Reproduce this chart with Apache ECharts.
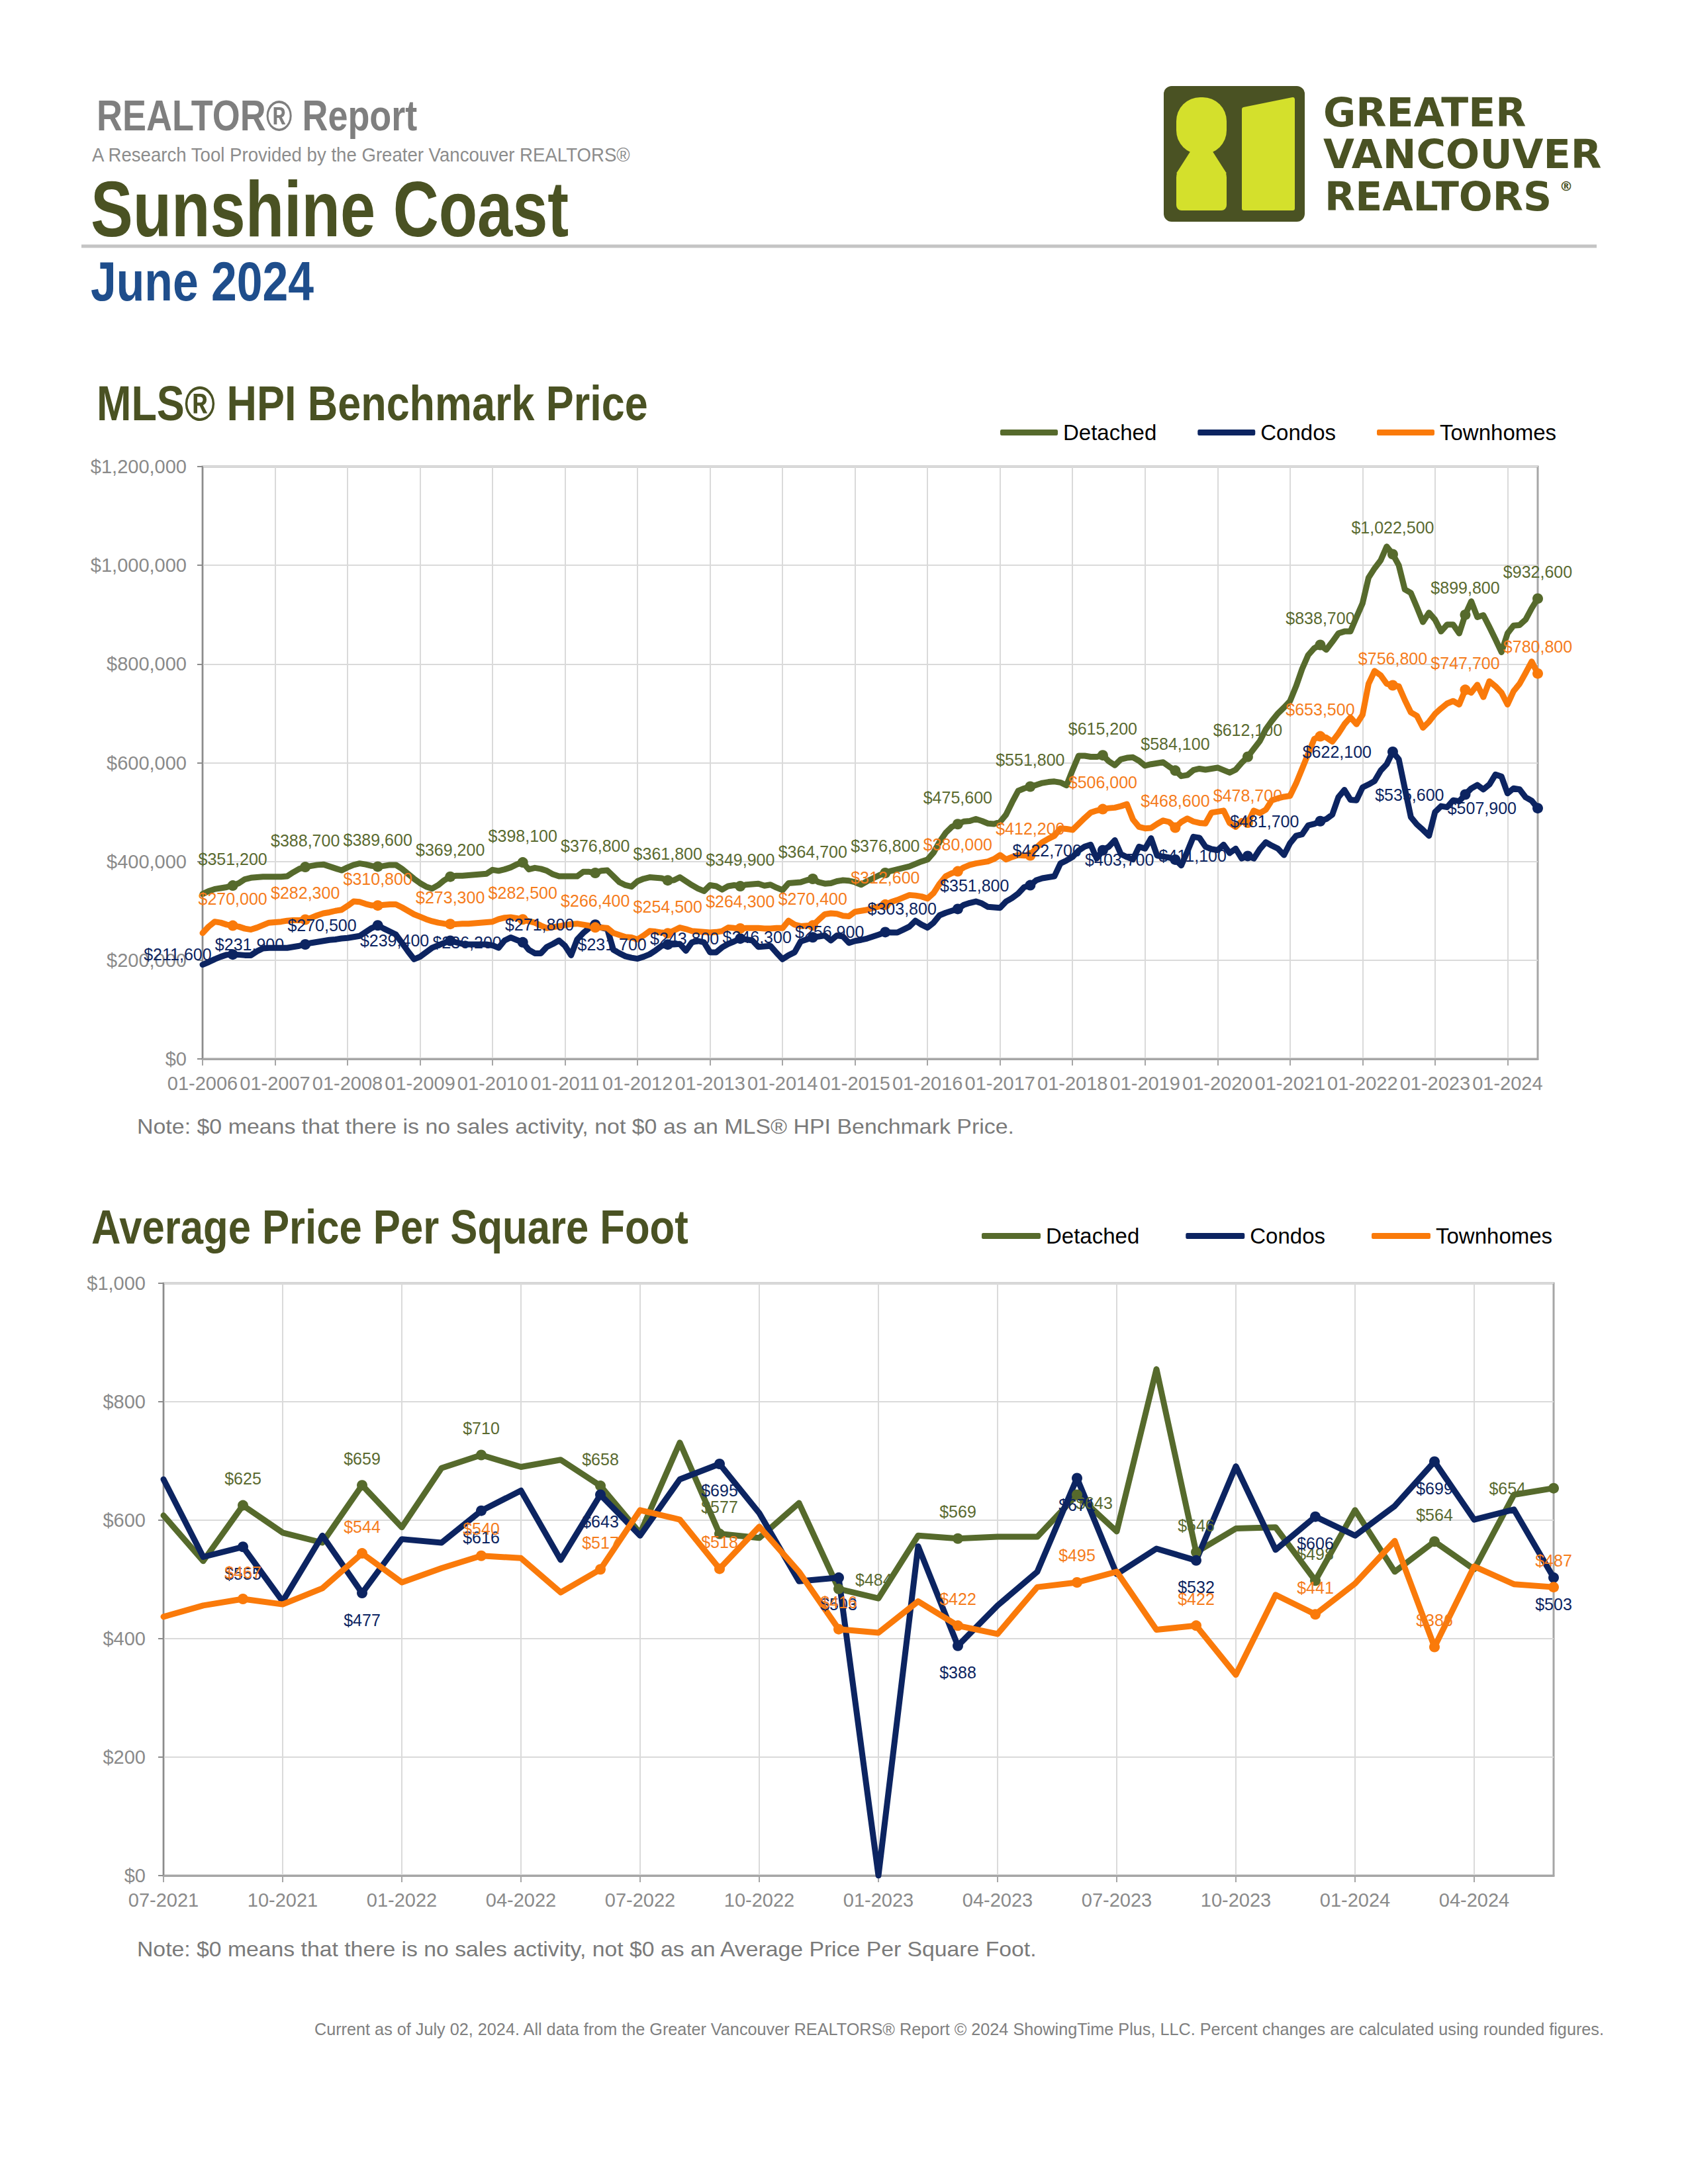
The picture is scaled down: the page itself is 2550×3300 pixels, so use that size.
<!DOCTYPE html>
<html>
<head>
<meta charset="utf-8">
<script src="https://cdn.jsdelivr.net/npm/echarts@6/dist/echarts.min.js"></script>
<style>
html,body{margin:0;padding:0;background:#ffffff;}
#page{width:2550px;height:3300px;}
</style>
</head>
<body>
<div id="page"></div>
<script>
// ---------------- DATA ----------------
const seriesNames = ['Detached', 'Condos', 'Townhomes'];

// MLS HPI Benchmark Price, monthly 01-2006 .. 06-2024
const hpiFirstYear = 2006;
const hpiMonthCount = 222;
const hpiYTicks = [0, 200000, 400000, 600000, 800000, 1000000, 1200000];

const hpiDetached = [
 334000,340000,344000,346000,348000,351200,356000,364000,367000,368000,369000,369000,
 369000,369000,370000,378000,385000,388700,391000,393000,394000,390000,386000,382000,
 388000,393000,396000,394000,391000,389600,391000,393000,393000,385000,375000,365000,
 356000,349000,345000,352000,362000,369200,371000,371000,372000,373000,374000,375000,
 383000,381000,384000,388000,394000,398100,384000,387000,385000,381000,374000,370000,
 370000,370000,370000,379000,379000,376800,381000,382000,370000,358000,352000,349000,
 360000,365000,368000,367000,366000,361800,362000,368000,360000,352000,345000,340000,
 352000,350000,343000,350000,352000,349900,353000,354000,355000,351000,353000,347000,
 342000,356000,357000,358000,362000,364700,358000,355000,356000,360000,362000,361000,
 358000,353000,360000,366000,372000,376800,381000,384000,387000,390000,395000,400000,
 404000,418000,440000,458000,470000,475600,481000,482000,486000,482000,477000,476000,
 480000,495000,520000,543000,548000,551800,555000,559000,561000,562000,560000,554000,
 585000,614000,614000,612000,612000,615200,603000,595000,607000,610000,611000,604000,
 594000,597000,599000,601000,592000,584100,573000,575000,585000,588000,586000,588000,
 590000,585000,580000,586000,600000,612100,628000,644000,668000,685000,700000,712000,
 725000,755000,790000,818000,832000,838700,829000,845000,862000,866000,866000,895000,
 923000,975000,994000,1010000,1038000,1022500,1000000,951000,944000,915000,885000,904000,
 890000,866000,880000,880000,862000,899800,927000,895000,899000,875000,850000,824000,
 862000,878000,879000,890000,913000,932600
];

const hpiCondos = [
 191000,196000,202000,207000,211000,211600,211000,210000,210000,218000,224000,225000,
 225000,225000,225000,227000,229000,231900,235000,237000,239000,241000,242000,244000,
 245000,247000,249000,257000,265000,270500,264000,258000,252000,235000,218000,202000,
 207000,216000,225000,230000,235000,239400,236000,233000,232000,232000,232000,232000,
 230000,225000,240000,246000,241000,236200,221000,214000,214000,227000,233000,240000,
 229000,210000,242000,255000,265000,271800,266000,263000,221000,214000,208000,205000,
 203000,207000,212000,220000,229000,231700,232000,233000,219000,236000,239000,236000,
 216000,216000,226000,233000,238000,243800,242000,240000,227000,228000,229000,215000,
 202000,210000,216000,238000,242000,246300,248000,250000,240000,250000,248000,235000,
 239000,241000,244000,248000,252000,256900,256000,256000,262000,268000,280000,272000,
 266000,276000,291000,296000,300000,303800,312000,316000,319000,315000,308000,307000,
 306000,319000,326000,335000,348000,351800,362000,366000,368000,370000,396000,402000,
 409000,422000,430000,434000,406000,422700,430000,443000,415000,409000,404000,430000,
 426000,447000,412000,410000,408000,403700,392000,420000,450000,448000,430000,425000,
 423000,434000,417000,426000,406000,411100,406000,425000,439000,432000,426000,413000,
 437000,452000,455000,473000,476000,481700,486000,495000,530000,545000,525000,524000,
 550000,556000,563000,584000,597000,622100,607000,548000,490000,475000,464000,452000,
 500000,512000,510000,524000,522000,535600,548000,555000,546000,556000,576000,572000,
 538000,548000,546000,530000,523000,507900
];

const hpiTownhomes = [
 255000,268000,278000,276000,272000,270000,268000,264000,262000,266000,271000,276000,
 277000,278000,280000,281000,281000,282300,286000,291000,295000,297000,300000,302000,
 310000,319000,318000,314000,311000,310800,312000,313000,313000,307000,300000,293000,
 288000,283000,279000,276000,274000,273300,273000,274000,274000,275000,276000,277000,
 278000,283000,286000,287000,285000,282500,279000,276000,270000,265000,267000,269000,
 271000,273000,274000,272000,270000,266400,266000,265000,255000,251000,247000,246000,
 242000,250000,259000,258000,256000,254500,260000,266000,263000,259000,258000,257000,
 256000,257000,259000,266000,265000,264300,265000,265000,265000,264000,264000,265000,
 265000,280000,272000,269000,270000,270400,282000,293000,295000,294000,290000,289000,
 298000,300000,302000,306000,309000,312600,318000,322000,327000,332000,331000,329000,
 325000,336000,355000,370000,376000,380000,388000,393000,396000,398000,400000,405000,
 413000,404000,409000,413000,412000,412200,428000,439000,446000,452000,467000,466000,
 464000,476000,488000,499000,503000,506000,508000,509000,512000,516000,485000,470000,
 467000,468000,476000,483000,480000,468600,480000,487000,481000,478000,477000,499000,
 501000,503000,478000,470000,482000,478700,503000,498000,505000,524000,528000,531000,
 533000,558000,588000,618000,648000,653500,651000,643000,659000,678000,692000,678000,
 697000,760000,786000,777000,760000,756800,755000,727000,702000,695000,671000,683000,
 699000,710000,720000,725000,718000,747700,742000,758000,733000,765000,755000,742000,
 718000,745000,760000,782000,805000,780800
];

// Average Price Per Square Foot, monthly 07-2021 .. 06-2024
const ppsfFirstYear = 2021;
const ppsfFirstMonth = 7;
const ppsfMonthCount = 36;
const ppsfYTicks = [0, 200, 400, 600, 800, 1000];

const ppsfDetached = [608,531,625,579,562,659,588,688,710,690,702,658,
                      578,731,577,570,629,484,468,574,569,572,572,643,
                      581,855,546,586,588,498,617,513,564,517,643,654];
const ppsfCondos   = [669,538,555,463,574,477,568,562,616,650,533,643,
                      574,669,695,612,497,503,0,556,388,456,513,671,
                      509,552,532,691,550,606,574,624,699,601,618,503];
const ppsfTownhomes= [437,456,467,458,485,544,495,519,540,536,478,517,
                      617,601,518,589,513,416,410,463,422,408,487,495,
                      513,415,422,339,474,441,493,565,386,522,492,487];

// category (tick) labels "MM-YYYY"
function monthLabels(y0, m0, n) {
  const out = [];
  for (let i = 0; i < n; i++) {
    const t = (m0 - 1) + i;
    const y = y0 + Math.floor(t / 12);
    const m = (t % 12) + 1;
    out.push(String(m).padStart(2, '0') + '-' + y);
  }
  return out;
}
const hpiCategories = monthLabels(hpiFirstYear, 1, hpiMonthCount);
const ppsfCategories = monthLabels(ppsfFirstYear, ppsfFirstMonth, ppsfMonthCount);

// ---------------- STYLE ----------------
const lineColors = { Detached: '#566a2c', Condos: '#0c2461', Townhomes: '#fa7a0a' };
const labelColors = { Detached: '#5a6a30', Condos: '#0c2461', Townhomes: '#f57c1c' };
const FONT = '"Liberation Sans", Arial, sans-serif';
const olive = '#4a5223';

function money(v) { return '$' + Number(v).toLocaleString('en-US'); }

// labelOverride: { index: {position, distance, offset} }
function makeSeries(name, values, idx, isLabeled, pos, dist, labelOverride) {
  return {
    name: name,
    type: 'line',
    xAxisIndex: idx,
    yAxisIndex: idx,
    z: 3,
    showSymbol: true,
    showAllSymbol: true,
    symbol: 'circle',
    symbolSize: 16,
    animation: false,
    silent: true,
    emphasis: { disabled: true },
    lineStyle: { width: 9, color: lineColors[name], cap: 'round', join: 'round' },
    itemStyle: { color: lineColors[name] },
    label: {
      show: false,
      formatter: function (p) { return money(p.value); },
      color: labelColors[name],
      fontSize: 25,
      fontFamily: FONT
    },
    data: values.map(function (v, i) {
      if (isLabeled(i)) {
        const lab = Object.assign({ show: true, position: pos, distance: dist },
                                  (labelOverride && labelOverride[i]) || {});
        return { value: v, symbol: 'circle', symbolSize: 16, label: lab };
      }
      return { value: v, symbol: 'none' };
    })
  };
}

const hpiLabeled = function (i) { return i % 12 === 5; };
const ppsfLabeled = function (i) { return i % 3 === 2; };

const axisGrey = '#a6a6a6';
const gridGrey = '#dadada';
const tickText = '#8a8a8a';

function xAxisDef(gridIndex, cats, interval) {
  return {
    type: 'category', gridIndex: gridIndex, data: cats, boundaryGap: false,
    axisLine: { show: true, lineStyle: { color: axisGrey, width: 3 } },
    axisTick: { show: true, interval: interval, length: 10, lineStyle: { color: axisGrey, width: 2 } },
    axisLabel: { interval: interval, margin: 22, color: tickText, fontSize: 29, fontFamily: FONT },
    splitLine: { show: true, interval: interval, lineStyle: { color: gridGrey, width: 2 } }
  };
}
function yAxisDef(gridIndex, ticks, margin) {
  return {
    type: 'value', gridIndex: gridIndex,
    min: ticks[0], max: ticks[ticks.length - 1], interval: ticks[1] - ticks[0],
    axisLine: { show: true, lineStyle: { color: '#8c8c8c', width: 2 } },
    axisTick: { show: true, length: 8, lineStyle: { color: '#8c8c8c', width: 2 } },
    axisLabel: { margin: margin, color: tickText, fontSize: 29, fontFamily: FONT, formatter: money },
    splitLine: { show: true, lineStyle: { color: gridGrey, width: 2 } }
  };
}

// text element; sx = horizontal squeeze/stretch to mimic the original typeface widths
function txt(text, x, y, font, fill, sx, align) {
  return {
    type: 'text', silent: true, x: x, y: y, scaleX: sx || 1, scaleY: 1,
    style: { text: text, x: 0, y: 0, font: font, fill: fill,
             textAlign: align || 'left', textVerticalAlign: 'middle' }
  };
}

const logoYellow = '#d4e02c';
const logoFont = 'bold 60px "DejaVu Sans", sans-serif';
const graphics = [
  txt('REALTOR® Report', 146, 175, 'bold 65px ' + FONT, '#7f7f7f', 0.83),
  txt('A Research Tool Provided by the Greater Vancouver REALTORS®', 139, 234, '30px ' + FONT, '#8c8c8c', 0.92),
  txt('Sunshine Coast', 137, 316, 'bold 118px ' + FONT, olive, 0.81),
  { type: 'line', silent: true, shape: { x1: 123, y1: 372, x2: 2412, y2: 372 }, style: { stroke: '#c4c4c4', lineWidth: 5 } },
  txt('June 2024', 137, 425, 'bold 83px ' + FONT, '#1f4e8c', 0.84),
  // logo
  { type: 'rect', silent: true, shape: { x: 1758, y: 130, width: 213, height: 205, r: 12 }, style: { fill: olive } },
  { type: 'rect', silent: true, shape: { x: 1777, y: 147, width: 76, height: 86, r: 36 }, style: { fill: logoYellow } },
  { type: 'polygon', silent: true, shape: { points: [[1800, 226], [1830, 226], [1853, 262], [1777, 262]] }, style: { fill: logoYellow } },
  { type: 'rect', silent: true, shape: { x: 1777, y: 250, width: 76, height: 68, r: [18, 18, 8, 8] }, style: { fill: logoYellow } },
  { type: 'polygon', silent: true, shape: { points: [[1879, 165], [1953, 150], [1953, 315], [1879, 315]] }, style: { fill: logoYellow, stroke: logoYellow, lineWidth: 6, lineJoin: 'round' } },
  txt('GREATER', 1999, 170, logoFont, olive, 1),
  txt('VANCOUVER', 1999, 233, logoFont, olive, 1.01),
  txt('REALTORS', 2001, 297, logoFont, olive, 1.0),
  txt('®', 2356, 281, 'bold 20px "DejaVu Sans", sans-serif', olive, 1),
  // section titles
  txt('MLS® HPI Benchmark Price', 146, 610, 'bold 74px ' + FONT, olive, 0.85),
  txt('Average Price Per Square Foot', 138, 1854, 'bold 72px ' + FONT, olive, 0.856),
  // notes
  txt('Note: $0 means that there is no sales activity, not $0 as an MLS® HPI Benchmark Price.', 207, 1702, '32px ' + FONT, '#7a7a7a', 1.06),
  txt('Note: $0 means that there is no sales activity, not $0 as an Average Price Per Square Foot.', 207, 2945, '32px ' + FONT, '#7a7a7a', 1.055),
  txt('Current as of July 02, 2024. All data from the Greater Vancouver REALTORS® Report © 2024 ShowingTime Plus, LLC. Percent changes are calculated using rounded figures.', 2423, 3066, '25px ' + FONT, '#808080', 1.01, 'right')
];

const legendBase = {
  icon: 'roundRect', itemHeight: 9, orient: 'horizontal', selectedMode: false,
  textStyle: { fontSize: 33, color: '#000000', fontFamily: FONT, padding: [0, 0, 0, 3] },
  data: seriesNames
};

const option = {
  backgroundColor: '#ffffff',
  animation: false,
  textStyle: { fontFamily: FONT },
  graphic: { elements: graphics },
  legend: [
    Object.assign({}, legendBase, { left: 1506, top: 632, itemWidth: 87, itemGap: 62 }),
    Object.assign({}, legendBase, { left: 1478, top: 1846, itemWidth: 89, itemGap: 70 })
  ],
  grid: [
    { left: 306, top: 705, width: 2017, height: 895, show: true, borderColor: axisGrey, borderWidth: 3, containLabel: false },
    { left: 247, top: 1939, width: 2100, height: 895, show: true, borderColor: axisGrey, borderWidth: 3, containLabel: false }
  ],
  xAxis: [ xAxisDef(0, hpiCategories, 11), xAxisDef(1, ppsfCategories, 2) ],
  yAxis: [ yAxisDef(0, hpiYTicks, 24), yAxisDef(1, ppsfYTicks, 27) ],
  series: [
    makeSeries('Detached', hpiDetached, 0, hpiLabeled, 'top', 20),
    makeSeries('Condos', hpiCondos, 0, hpiLabeled, 'left', 24),
    makeSeries('Townhomes', hpiTownhomes, 0, hpiLabeled, 'top', 20),
    makeSeries('Detached', ppsfDetached, 1, ppsfLabeled, 'top', 20, {
      17: { position: 'right', distance: 17, offset: [0, -14] },
      23: { position: 'inside', offset: [26, 12] },
      35: { position: 'left', distance: 34 }
    }),
    makeSeries('Condos', ppsfCondos, 1, ppsfLabeled, 'bottom', 20),
    makeSeries('Townhomes', ppsfTownhomes, 1, ppsfLabeled, 'top', 20)
  ]
};

const chart = echarts.init(document.getElementById('page'), null, { renderer: 'svg', width: 2550, height: 3300 });
chart.setOption(option);
</script>
</body>
</html>
